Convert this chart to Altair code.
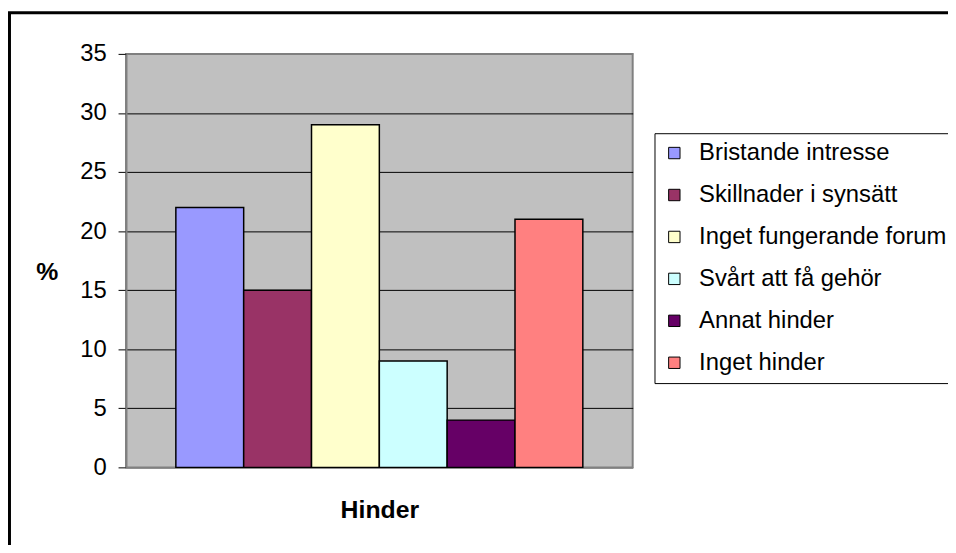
import altair as alt
import pandas as pd

categories = ["Bristande intresse", "Skillnader i synsätt", "Inget fungerande forum",
              "Svårt att få gehör", "Annat hinder", "Inget hinder"]
values = [22, 15, 29, 9, 4, 21]
colors = ["#9999FF", "#993366", "#FFFFCC", "#CCFFFF", "#660066", "#FF8080"]
y_ticks = [0, 5, 10, 15, 20, 25, 30, 35]

df = pd.DataFrame({"Hinder": categories, "Procent": values})

FONT = "Liberation Sans"

bars = alt.Chart(df).mark_bar(stroke="black", strokeWidth=1.5).encode(
    x=alt.X("Hinder:N", sort=categories,
            scale=alt.Scale(paddingInner=0, paddingOuter=0.735),
            axis=alt.Axis(labels=False, ticks=False, grid=False, title="Hinder",
                          domainColor="#808080", domainWidth=2,
                          titleFont=FONT, titleFontSize=25, titleFontWeight="bold",
                          titleColor="black", titleBaseline="middle", titleY=43)),
    y=alt.Y("Procent:Q",
            scale=alt.Scale(domain=[0, 35], nice=False),
            axis=alt.Axis(values=y_ticks, title="%", grid=True,
                          gridColor=alt.condition("datum.value == 35 || datum.value == 0",
                                                  alt.value("#808080"), alt.value("black")),
                          gridWidth=1, domainColor="#808080", domainWidth=2,
                          tickColor="black", tickSize=8, tickWidth=1,
                          labelFont=FONT, labelFontSize=24, labelColor="black",
                          labelPadding=12,
                          titleFont=FONT, titleFontSize=25, titleFontWeight="bold",
                          titleColor="black", titleAngle=0, titleAlign="center",
                          titleBaseline="middle", titleX=-80, titleY=220)),
    color=alt.Color("Hinder:N", sort=categories,
                    scale=alt.Scale(domain=categories, range=colors),
                    legend=alt.Legend(title=None, orient="none", legendX=533, legendY=80,
                                      symbolType="square", symbolSize=132,
                                      symbolStrokeColor="black", symbolStrokeWidth=1,
                                      labelFont=FONT, labelFontSize=24, labelColor="black",
                                      labelOffset=13, rowPadding=18.3, padding=8,
                                      strokeColor="black", fillColor="white",
                                      labelLimit=400)),
)

frame = alt.Chart(pd.DataFrame({"f": [0]})).mark_rect(
    fill="transparent", stroke="black", strokeWidth=3
).encode(
    x=alt.value(-117.5), x2=alt.value(900),
    y=alt.value(-41.5), y2=alt.value(600),
)

chart = alt.layer(frame, bars).properties(
    width=511, height=417,
    autosize=alt.AutoSizeParams(type="none"),
    padding={"left": 119, "top": 44, "right": 318, "bottom": 76},
    background="white",
).configure_view(
    fill="#C0C0C0", stroke="#808080", strokeWidth=2
)

chart.save("out.html", embed_options={"renderer": "svg", "actions": False})
